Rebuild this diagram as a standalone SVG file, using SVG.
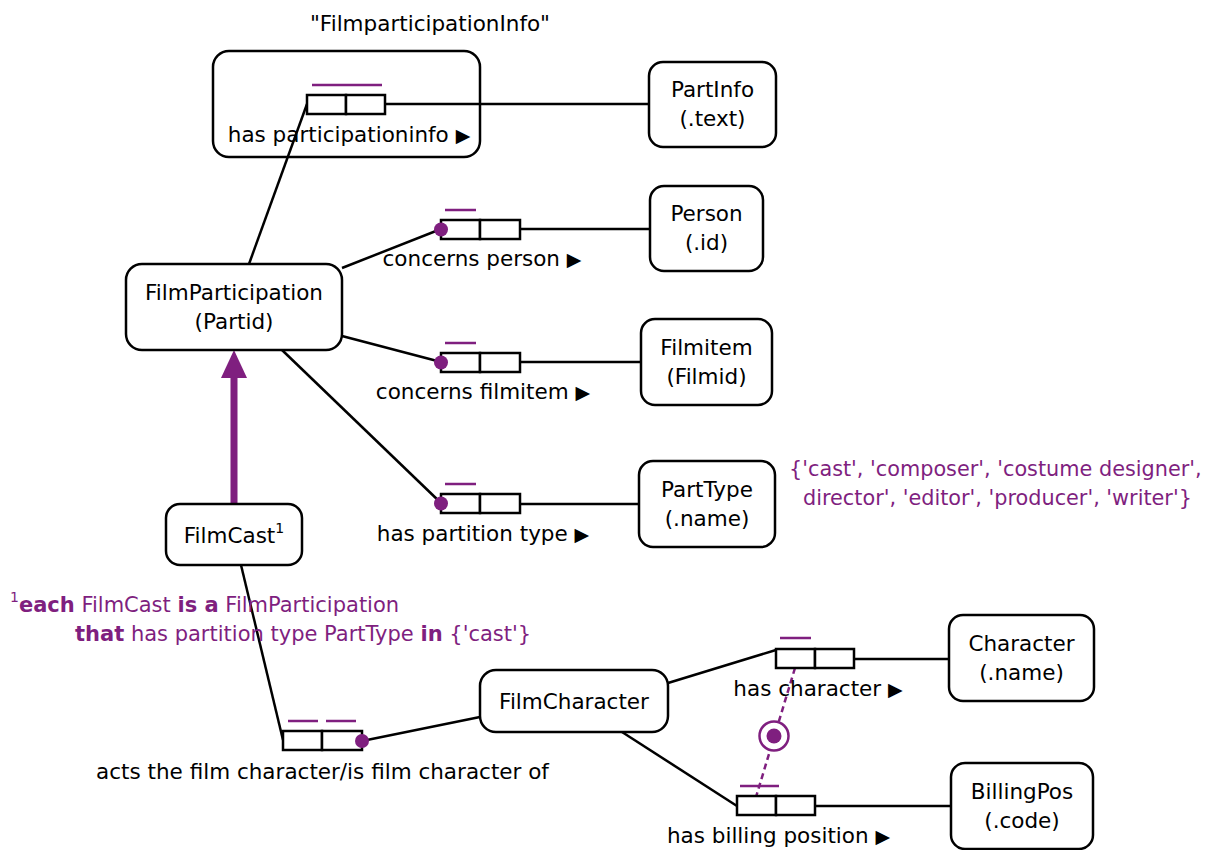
<svg xmlns="http://www.w3.org/2000/svg" width="1212" height="850" viewBox="0 0 1212 850">
<style>
text{font-family:"DejaVu Sans","Verdana",sans-serif;font-size:21.5px;fill:#000}
.c{text-anchor:middle}
.p{fill:#7f1f7f}
.b{font-weight:bold}
.vc{font-size:20.8px}
.fn{font-size:21px}
.node{fill:#fff;stroke:#000;stroke-width:2.5}
.role{fill:#fff;stroke:#000;stroke-width:2.5}
.ln{stroke:#000;stroke-width:2.5;fill:none}
.uc{stroke:#7f1f7f;stroke-width:2.5}
.dot{fill:#7f1f7f}
.tri{font-size:19px}
</style>
<rect width="1212" height="850" fill="#fff"/>
<g id="FilmparticipationInfo">
<text class="c" x="430" y="31">"FilmparticipationInfo"</text>
<rect class="node" x="213" y="51" width="267" height="106" rx="16"/>
<line class="uc" x1="312" y1="85" x2="382" y2="85"/>
<text class="c" x="349" y="142">has participationinfo <tspan class="tri">▶</tspan></text>
</g>
<g id="connectors">
<line class="ln" x1="249" y1="264" x2="307" y2="104"/>
<line class="ln" x1="385" y1="104" x2="649" y2="104"/>
<line class="ln" x1="342" y1="268" x2="441" y2="229"/>
<line class="ln" x1="520" y1="229" x2="650" y2="229"/>
<line class="ln" x1="342" y1="336" x2="441" y2="362"/>
<line class="ln" x1="520" y1="362" x2="641" y2="362"/>
<line class="ln" x1="282" y1="350" x2="441" y2="503"/>
<line class="ln" x1="520" y1="504" x2="639" y2="504"/>
<line class="ln" x1="241" y1="565" x2="283" y2="740"/>
<line class="ln" x1="362" y1="741" x2="480" y2="717"/>
<line class="ln" x1="668" y1="683" x2="776" y2="650"/>
<line class="ln" x1="854" y1="659" x2="949" y2="659"/>
<line class="ln" x1="622" y1="732" x2="737" y2="806"/>
<line class="ln" x1="815" y1="806" x2="951" y2="806"/>
<line x1="234" y1="504" x2="234" y2="372" stroke="#7f1f7f" stroke-width="7"/>
<polygon points="234,350 221,378 247,378" fill="#7f1f7f"/>
<line x1="795" y1="668" x2="756" y2="797" stroke="#7f1f7f" stroke-width="2.5" stroke-dasharray="6,4"/>
</g>
<g id="has_participationinfo">
<rect class="role" x="307" y="95" width="39" height="19"/>
<rect class="role" x="346" y="95" width="39" height="19"/>
</g>
<g id="PartInfo">
<rect class="node" x="649" y="62" width="127" height="85" rx="14"/>
<text class="c" x="712.5" y="97">PartInfo</text>
<text class="c" x="712.5" y="126">(.text)</text>
</g>
<g id="Person">
<rect class="node" x="650" y="186" width="113" height="85" rx="14"/>
<text class="c" x="706.5" y="221">Person</text>
<text class="c" x="706.5" y="250">(.id)</text>
</g>
<g id="Filmitem">
<rect class="node" x="641" y="319" width="131" height="86" rx="14"/>
<text class="c" x="706.5" y="355">Filmitem</text>
<text class="c" x="706.5" y="384">(Filmid)</text>
</g>
<g id="PartType">
<rect class="node" x="639" y="461" width="136" height="86" rx="14"/>
<text class="c" x="707" y="497">PartType</text>
<text class="c" x="707" y="526">(.name)</text>
<text class="p vc" x="789" y="476">{'cast', 'composer', 'costume designer',</text>
<text class="p vc" x="803" y="505">director', 'editor', 'producer', 'writer'}</text>
</g>
<g id="FilmParticipation">
<rect class="node" x="126" y="264" width="216" height="86" rx="16"/>
<text class="c" x="234" y="300">FilmParticipation</text>
<text class="c" x="234" y="329">(Partid)</text>
</g>
<g id="FilmCast">
<rect class="node" x="166" y="504" width="136" height="61" rx="14"/>
<text class="c" x="234" y="543">FilmCast<tspan font-size="14" dy="-10">1</tspan></text>
</g>
<g id="footnote">
<text class="p fn" x="10" y="612"><tspan font-size="14" dy="-10">1</tspan><tspan class="b p" dy="10">each</tspan> FilmCast <tspan class="b">is a</tspan> FilmParticipation</text>
<text class="p fn" x="75" y="641"><tspan class="b">that</tspan> has partition type PartType <tspan class="b">in</tspan> {'cast'}</text>
</g>
<g id="concerns_person">
<line class="uc" x1="445" y1="210" x2="476" y2="210"/>
<rect class="role" x="441" y="220" width="39" height="19"/>
<rect class="role" x="480" y="220" width="40" height="19"/>
<circle class="dot" cx="441" cy="229.5" r="7"/>
<text class="c" x="482" y="266">concerns person <tspan class="tri">▶</tspan></text>
</g>
<g id="concerns_filmitem">
<line class="uc" x1="445" y1="343" x2="476" y2="343"/>
<rect class="role" x="441" y="353" width="39" height="19"/>
<rect class="role" x="480" y="353" width="40" height="19"/>
<circle class="dot" cx="441" cy="362.5" r="7"/>
<text class="c" x="483" y="399">concerns filmitem <tspan class="tri">▶</tspan></text>
</g>
<g id="has_partition_type">
<line class="uc" x1="445" y1="484" x2="476" y2="484"/>
<rect class="role" x="441" y="494" width="39" height="19"/>
<rect class="role" x="480" y="494" width="40" height="19"/>
<circle class="dot" cx="441" cy="503.5" r="7"/>
<text class="c" x="483" y="541">has partition type <tspan class="tri">▶</tspan></text>
</g>
<g id="acts_the_film_character">
<line class="uc" x1="288" y1="721" x2="318" y2="721"/>
<line class="uc" x1="326" y1="721" x2="356" y2="721"/>
<rect class="role" x="283" y="731" width="39" height="19"/>
<rect class="role" x="322" y="731" width="40" height="19"/>
<circle class="dot" cx="362" cy="741" r="7"/>
<text class="c" x="322.5" y="779">acts the film character/is film character of</text>
</g>
<g id="FilmCharacter">
<rect class="node" x="480" y="670" width="188" height="62" rx="16"/>
<text class="c" x="574" y="709">FilmCharacter</text>
</g>
<g id="has_character">
<line class="uc" x1="780" y1="638" x2="811" y2="638"/>
<rect class="role" x="776" y="649" width="39" height="19"/>
<rect class="role" x="815" y="649" width="39" height="19"/>
<text class="c" x="818" y="696">has character <tspan class="tri">▶</tspan></text>
</g>
<g id="has_billing_position">
<line class="uc" x1="740" y1="786" x2="779" y2="786"/>
<rect class="role" x="737" y="796" width="39" height="19"/>
<rect class="role" x="776" y="796" width="39" height="19"/>
<text class="c" x="778.5" y="843">has billing position <tspan class="tri">▶</tspan></text>
</g>
<g id="equality_constraint">
<circle cx="774" cy="736" r="14.5" fill="#fff" stroke="#7f1f7f" stroke-width="2.5"/>
<circle cx="774" cy="736" r="7.5" fill="#7f1f7f"/>
</g>
<g id="Character">
<rect class="node" x="949" y="615" width="145" height="86" rx="14"/>
<text class="c" x="1021.5" y="651">Character</text>
<text class="c" x="1021.5" y="680">(.name)</text>
</g>
<g id="BillingPos">
<rect class="node" x="951" y="763" width="142" height="86" rx="14"/>
<text class="c" x="1022" y="799">BillingPos</text>
<text class="c" x="1022" y="828">(.code)</text>
</g>
</svg>
